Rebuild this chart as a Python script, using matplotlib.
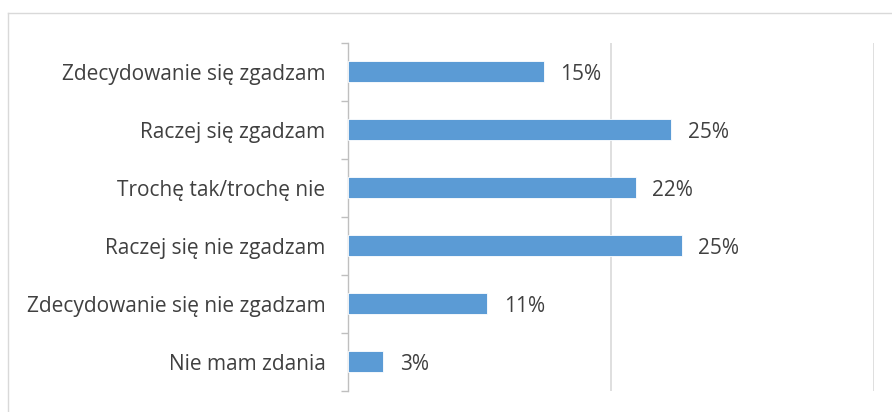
import matplotlib.pyplot as plt
from matplotlib.lines import Line2D

# answers, top to bottom as shown
categories = [
    "Zdecydowanie się zgadzam",
    "Raczej się zgadzam",
    "Trochę tak/trochę nie",
    "Raczej się nie zgadzam",
    "Zdecydowanie się nie zgadzam",
    "Nie mam zdania",
]
shares = [14.9, 24.6, 21.9, 25.4, 10.6, 2.7]
share_labels = ["15%", "25%", "22%", "25%", "11%", "3%"]

BAR_COLOR = "#5B9BD5"
TEXT_COLOR = "#404040"
GRID_COLOR = "#D9D9D9"

plt.rcParams["font.family"] = ["Open Sans", "DejaVu Sans"]


def main():
    fig = plt.figure(figsize=(8.92, 4.12), dpi=100)
    ax = fig.add_axes([0.3898, 0.0517, 0.5897, 0.8447])

    ypos = list(range(len(categories)))
    ax.barh(ypos, shares, height=0.36, color=BAR_COLOR,
            edgecolor="white", linewidth=0.6, zorder=3)

    for y, v, lab in zip(ypos, shares, share_labels):
        ax.annotate(lab, (v, y), xytext=(12, -2), textcoords="offset points",
                    va="center", ha="left", fontsize=15, color=TEXT_COLOR)

    ax.set_xlim(0, 40)
    ax.set_ylim(len(categories) - 0.5, -0.5)
    ax.set_xticks([20, 40])
    ax.xaxis.grid(True, color=GRID_COLOR, linewidth=1.2, zorder=0)
    ax.tick_params(axis="x", length=0, labelbottom=False)

    # category labels at centers, tick marks at boundaries
    ax.set_yticks(ypos)
    ax.set_yticklabels(categories, fontsize=15, color=TEXT_COLOR)
    ax.tick_params(axis="y", which="major", length=0, pad=16)
    ax.set_yticks([i - 0.5 for i in range(len(categories) + 1)], minor=True)
    ax.tick_params(axis="y", which="minor", length=5, width=1.0, color="#BFBFBF")

    for side in ["top", "right", "bottom"]:
        ax.spines[side].set_visible(False)
    ax.spines["left"].set_color("#BFBFBF")
    ax.spines["left"].set_linewidth(1.0)

    # chart area border (top and left visible in the crop)
    fig.add_artist(Line2D([8 / 892, 1.0], [1 - 13 / 412, 1 - 13 / 412],
                          color=GRID_COLOR, linewidth=1.0, transform=fig.transFigure))
    fig.add_artist(Line2D([8 / 892, 8 / 892], [0.0, 1 - 13 / 412],
                          color=GRID_COLOR, linewidth=1.0, transform=fig.transFigure))

    fig.savefig("out.png", dpi=100)


if __name__ == "__main__":
    main()
